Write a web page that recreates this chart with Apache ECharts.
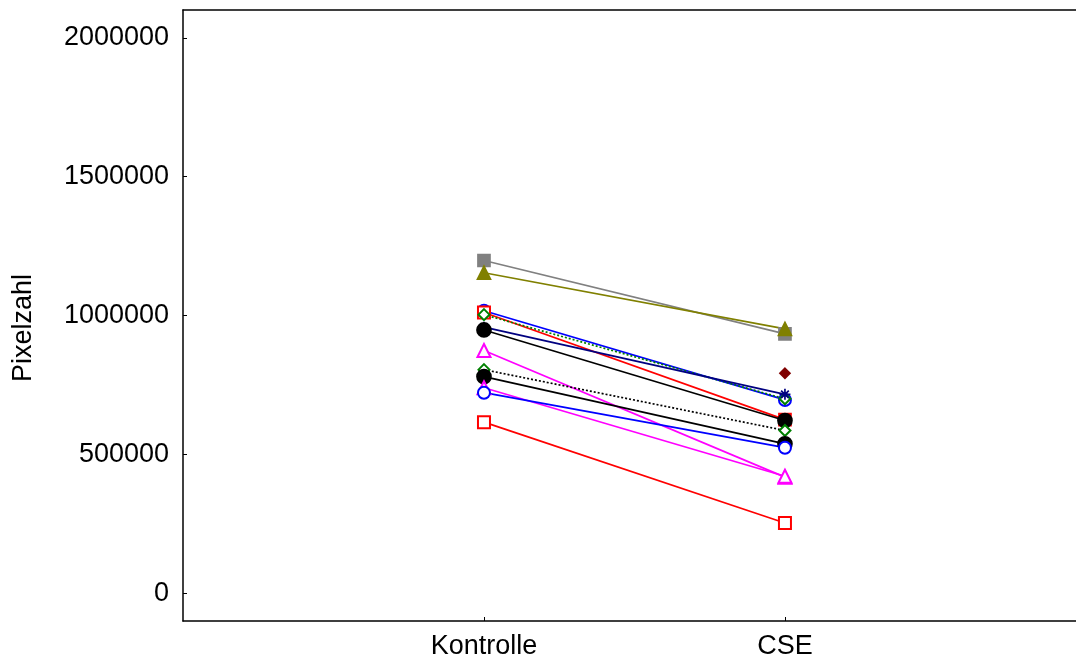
<!DOCTYPE html>
<html>
<head>
<meta charset="utf-8">
<script src="https://cdn.jsdelivr.net/npm/echarts@6/dist/echarts.min.js"></script>
<style>html,body{margin:0;padding:0;background:#fff}#c{width:1076px;height:661px}</style>
</head>
<body>
<div id="c"></div>
<script>
var categories = ['Kontrolle', 'CSE'];
var yTicks = [0, 500000, 1000000, 1500000, 2000000];

// each case: [Kontrolle, CSE]
var grayCase    = [1198000, 934000];
var oliveCase   = [1154000, 952000];
var blueCase1   = [1017000, 696000];
var redCase1    = [1011000, 625000];
var greenCase1  = [1003000, 700000];
var navyCase    = [958000, 716000];
var blackCase1  = [948000, 622000];
var magentaCase1= [874000, 418000];
var greenCase2  = [805000, 586000];
var blackCase2  = [780000, 538000];
var magentaCase2= [740000, 421000];
var blueCase2   = [722000, 524000];
var redCase2    = [616000, 253000];
var darkRedCase = [null, 792000];

var FONT = '"Liberation Sans", Arial, Helvetica, sans-serif';
var asterisk = 'path://M0,5L10,5M5,0L5,10M1.5,1.5L8.5,8.5M8.5,1.5L1.5,8.5';

function pts(vals, syms) {
  return vals.map(function (v, i) {
    var d = { value: [i + 1, v] };
    if (syms && syms[i]) d.symbol = syms[i];
    return d;
  });
}
function mk(name, vals, color, symbol, opts) {
  opts = opts || {};
  return {
    name: name,
    type: 'line',
    xAxisIndex: 0,
    data: pts(vals, opts.syms),
    symbol: symbol,
    symbolSize: opts.size || 12,
    showSymbol: true,
    connectNulls: false,
    animation: false,
    lineStyle: { color: opts.lineColor || color, width: 1.7, type: opts.lineType || 'solid' },
    itemStyle: { color: color, borderColor: color, borderWidth: opts.bw || 1.7 },
    emphasis: { disabled: true },
    z: opts.z || 2
  };
}

var chart = echarts.init(document.getElementById('c'), null, { renderer: 'canvas' });
chart.setOption({
  backgroundColor: '#fff',
  animation: false,
  grid: { left: 183, top: 10, right: 0, bottom: 40, show: false },
  xAxis: [{
    type: 'value', min: 0, max: 2.967,
    splitLine: { show: false },
    axisLine: { onZero: false, lineStyle: { color: '#000', width: 1.5 } },
    axisTick: { inside: true, length: 4, lineStyle: { color: '#000' }, customValues: [1, 2] },
    axisLabel: {
      customValues: [1, 2], margin: 12, color: '#000', fontSize: 27, fontFamily: FONT,
      formatter: function (v) { return categories[Math.round(v) - 1] || ''; }
    }
  }, {
    type: 'value', position: 'top', min: 0, max: 2.967,
    splitLine: { show: false },
    axisLine: { show: true, onZero: false, lineStyle: { color: '#000', width: 1.5 } },
    axisTick: { show: false },
    axisLabel: { show: false }
  }],
  yAxis: {
    type: 'value', min: -100000, max: 2100000,
    splitLine: { show: false },
    axisLine: { show: true, onZero: false, lineStyle: { color: '#000', width: 1.5 } },
    axisTick: { show: true, inside: true, length: 4, lineStyle: { color: '#000' }, customValues: yTicks },
    axisLabel: { customValues: yTicks, margin: 14, color: '#000', fontSize: 27, fontFamily: FONT,
      formatter: function (v) { return String(Math.round(v)); } }
  },
  graphic: [{
    type: 'text', x: 24, y: 328, rotation: Math.PI / 2,
    style: { text: 'Pixelzahl', fontSize: 27, fontFamily: FONT, fill: '#000', align: 'center', verticalAlign: 'middle' }
  }],
  series: [
    mk('c1', grayCase, '#808080', 'rect', { size: 12 }),
    mk('c2', oliveCase, '#808000', 'triangle', { size: 13 }),
    mk('c3', blueCase1, '#0000ff', 'emptyCircle', { size: 12 }),
    mk('c4', redCase1, '#ff0000', 'emptyRect', { syms: ['emptyRect', 'rect'], size: 12 }),
    mk('c5', greenCase1, '#008000', 'emptyDiamond', { lineType: [2, 2], size: 11 }),
    mk('c6', navyCase, '#000080', asterisk, { size: 11 }),
    mk('c7', blackCase1, '#000000', 'circle', { size: 14 }),
    mk('c8', magentaCase1, '#ff00ff', 'emptyTriangle', { size: 13 }),
    mk('c9', greenCase2, '#008000', 'emptyDiamond', { lineColor: '#000000', lineType: [2, 2], size: 11 }),
    mk('c10', blackCase2, '#000000', 'circle', { size: 14 }),
    mk('c11', magentaCase2, '#ff00ff', 'emptyTriangle', { size: 13 }),
    mk('c12', blueCase2, '#0000ff', 'emptyCircle', { size: 12 }),
    mk('c13', redCase2, '#ff0000', 'emptyRect', { size: 12 }),
    mk('c14', darkRedCase, '#800000', 'diamond', { size: 10 })
  ]
});
</script>
</body>
</html>
